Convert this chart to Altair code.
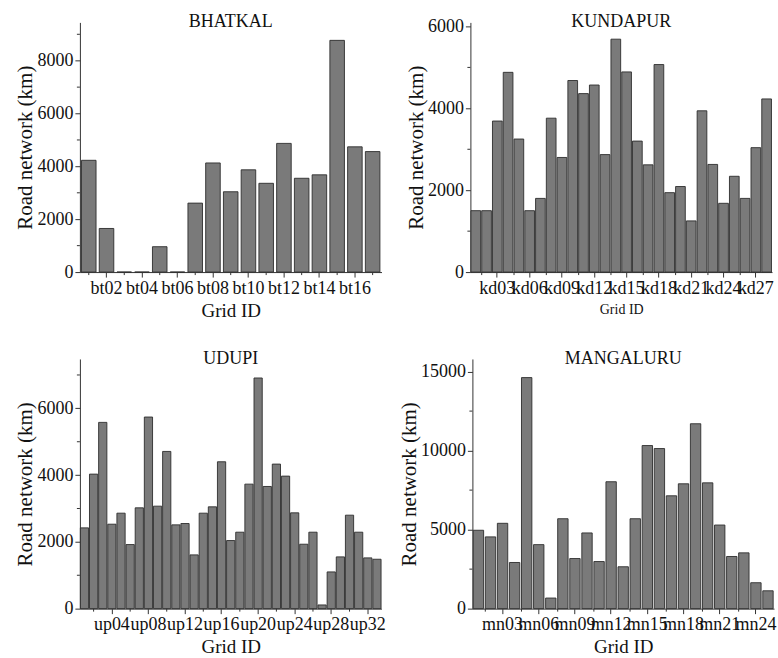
import altair as alt
import pandas as pd

# Road network length (km) per grid cell, four coastal towns
bt_ids = ["bt01", "bt02", "bt03", "bt04", "bt05", "bt06", "bt07", "bt08", "bt09",
          "bt10", "bt11", "bt12", "bt13", "bt14", "bt15", "bt16", "bt17"]
bt_km = [4230, 1650, 0, 0, 960, 0, 2610, 4130, 3040, 3870, 3360, 4870, 3550,
         3680, 8770, 4740, 4560]

kd_ids = [f"kd{i:02d}" for i in range(1, 29)]
kd_km = [1500, 1500, 3690, 4880, 3250, 1500, 1800, 3760, 2800, 4680, 4360, 4570,
         2870, 5690, 4890, 3200, 2620, 5070, 1940, 2090, 1250, 3940, 2630, 1680,
         2340, 1800, 3040, 4230]

up_ids = [f"up{i:02d}" for i in range(1, 34)]
up_km = [2420, 4030, 5580, 2530, 2860, 1920, 3020, 5740, 3070, 4710, 2510, 2550,
         1610, 2860, 3050, 4400, 2040, 2290, 3730, 6910, 3660, 4330, 3970, 2870,
         1930, 2290, 110, 1100, 1550, 2800, 2290, 1520, 1480]

mn_ids = [f"mn{i:02d}" for i in range(1, 26)]
mn_km = [4960, 4540, 5400, 2920, 14620, 4050, 670, 5690, 3170, 4790, 2980, 8030,
         2650, 5690, 10320, 10130, 7140, 7900, 11700, 7960, 5290, 3300, 3530,
         1640, 1130]

FONT = "Liberation Serif"
INK = "#111111"
AXIS = "#333333"
W, H = 302, 250


def panel(name, ids, km, y_max, y_major, y_minor, label_every, first_label,
          minor_on_edge, pad, xtitle_size=19, xtitle_pad=4):
    labelled = ids[first_label::label_every]
    half = label_every // 2
    # minor ticks sit halfway between labelled categories: on a band edge
    # when the label step is odd, on a band centre when it is even
    minor_x = ids[first_label - half::label_every]
    minor_band = 0 if minor_on_edge else 0.5

    xscale = alt.Scale(domain=ids, paddingInner=pad, paddingOuter=pad / 2)
    yscale = alt.Scale(domain=[0, y_max], nice=False, zero=True)

    xaxis = alt.Axis(values=labelled, title="Grid ID", labelAngle=0,
                     labelOverlap=False, tickSize=5, labelPadding=2,
                     labelFontSize=18, titleFontSize=xtitle_size,
                     titlePadding=xtitle_pad)
    yaxis = alt.Axis(values=y_major, format="d", title="Road network (km)",
                     tickSize=5, labelPadding=2, labelFontSize=18,
                     titleFontSize=21, titlePadding=1, grid=False)

    df = pd.DataFrame({"grid": ids, "km": km})
    bars = alt.Chart(df).mark_bar(
        color="#7a7a7a", stroke="#2e2e2e", strokeWidth=0.9
    ).encode(
        x=alt.X("grid:N", scale=xscale, sort=ids, axis=xaxis),
        y=alt.Y("km:Q", scale=yscale, axis=yaxis),
    )

    xminor = alt.Chart(pd.DataFrame({"grid": minor_x})).mark_rule(
        color=AXIS, strokeWidth=1
    ).encode(
        x=alt.X("grid:N", scale=xscale, sort=ids, axis=xaxis,
                bandPosition=minor_band),
        y=alt.value(H),
        y2=alt.value(H + 3),
    )

    yminor = alt.Chart(pd.DataFrame({"km": y_minor})).mark_rule(
        color=AXIS, strokeWidth=1
    ).encode(
        y=alt.Y("km:Q", scale=yscale, axis=yaxis),
        x=alt.value(0),
        x2=alt.value(-3),
    )

    title = alt.Chart(pd.DataFrame({"t": [name]})).mark_text(
        font=FONT, fontSize=18, color=INK, baseline="alphabetic", align="center"
    ).encode(
        text="t:N",
        x=alt.value(W / 2),
        y=alt.value(5),
    )

    return alt.layer(bars, xminor, yminor, title).properties(width=W, height=H)


p1 = panel("BHATKAL", bt_ids, bt_km, 9450,
           [0, 2000, 4000, 6000, 8000], [1000, 3000, 5000, 7000, 9000],
           2, 1, False, 0.18)
p2 = panel("KUNDAPUR", kd_ids, kd_km, 6100,
           [0, 2000, 4000, 6000], [1000, 3000, 5000],
           3, 2, True, 0.1, xtitle_size=14, xtitle_pad=5)
p3 = panel("UDUPI", up_ids, up_km, 7480,
           [0, 2000, 4000, 6000], [1000, 3000, 5000, 7000],
           4, 3, False, 0.1)
p4 = panel("MANGALURU", mn_ids, mn_km, 15800,
           [0, 5000, 10000, 15000], [2500, 7500, 12500],
           3, 2, True, 0.14)

chart = alt.vconcat(
    alt.hconcat(p1, p2, spacing=24),
    alt.hconcat(p3, p4, spacing=13),
    spacing=30,
).properties(
    padding={"left": 15, "top": 13, "right": 2, "bottom": 0},
    background="white",
).configure_view(
    stroke=None
).configure_axis(
    labelFont=FONT, titleFont=FONT, labelColor=INK, titleColor=INK,
    titleFontWeight="normal", domainColor=AXIS, tickColor=AXIS,
    domainWidth=1, tickWidth=1,
)

chart.save("out.html", embed_options={"renderer": "svg", "actions": False})
